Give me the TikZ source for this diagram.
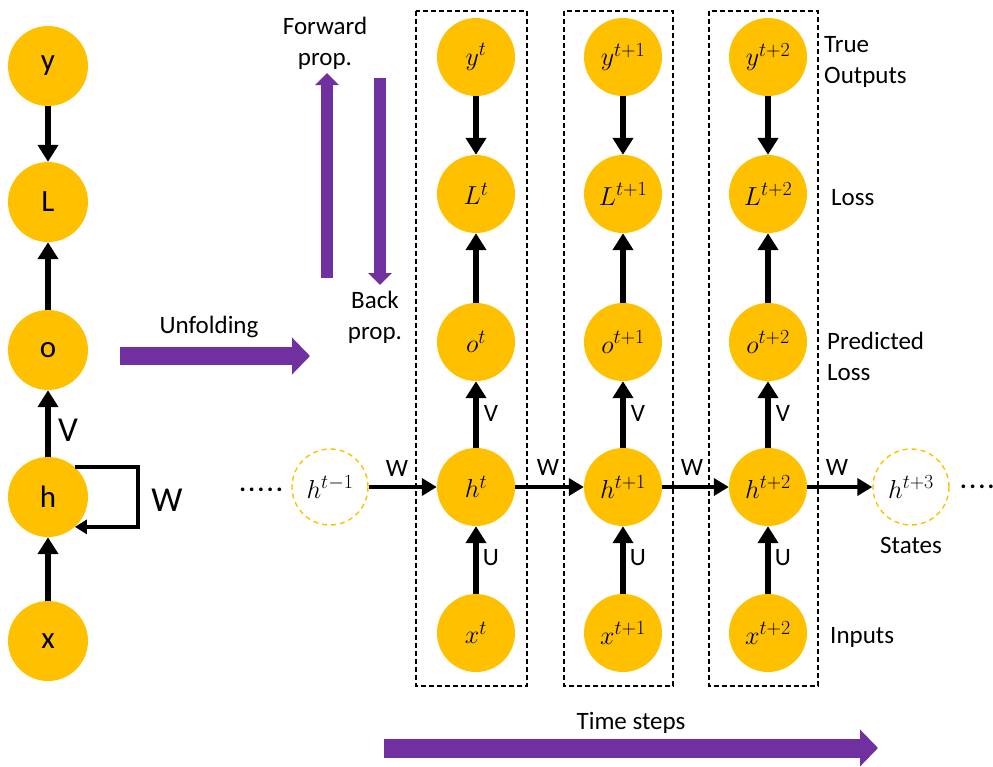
\documentclass[tikz,border=0pt]{standalone}
\usepackage{fix-cm}
\usepackage{fontspec}
\setmainfont{Carlito}
\usetikzlibrary{arrows.meta}
\DeclareMathSizes{26}{26}{20}{15}
\definecolor{rnnGold}{HTML}{FFC000}
\definecolor{rnnPurple}{HTML}{7030A0}
\begin{document}
\begin{tikzpicture}[x=1pt,y=-1pt,
  neuron/.style={circle,fill=rnnGold,minimum size=78pt,inner sep=0pt,font=\fontsize{26}{30}\selectfont},
  bigneuron/.style={neuron,minimum size=80pt,font=\fontsize{31}{36}\selectfont},
  ghost/.style={circle,draw=rnnGold,line width=1.4pt,dash pattern=on 5pt off 4pt,minimum size=76pt,inner sep=0pt,font=\fontsize{26}{30}\selectfont},
  varrow/.style={line width=6pt,-{Triangle[width=20pt,length=17pt]}},
  harrow/.style={line width=4.5pt,-{Triangle[width=17pt,length=15pt]}},
  looparrow/.style={line width=3.5pt,-{Triangle[width=14pt,length=12pt]}},
  flowarrow/.style={draw=rnnPurple,line cap=butt},
  dashbox/.style={draw,line width=1.2pt,dash pattern=on 5pt off 3pt},
  lbl/.style={font=\fontsize{25}{31}\selectfont,inner sep=0pt},
  biglbl/.style={font=\fontsize{35}{40}\selectfont,inner sep=0pt},
]
\useasboundingbox (0,0) rectangle (993,766);

% folded network
\node[bigneuron] (ly) at (48,66) {y};
\node[bigneuron] (lL) at (48,202) {L};
\node[bigneuron] (lo) at (48,350) {o};
\node[bigneuron] (lh) at (48,497) {h};
\node[bigneuron] (lx) at (48,641) {x};
\draw[varrow] (ly) -- (lL);
\draw[varrow] (lo) -- (lL);
\draw[varrow] (lh) -- (lo);
\draw[varrow] (lx) -- (lh);
\node[biglbl] at (68,430) {V};
\coordinate (loopc) at (138,497);
\draw[looparrow] (lh.48) -| (loopc) |- (lh.-48);
\node[biglbl] at (167,500) {W};

% unfolding arrow
\coordinate (uf0) at (120,356);
\coordinate (uf1) at (310,356);
\draw[flowarrow,line width=18pt,-{Triangle[width=36pt,length=18pt]}] (uf0) -- (uf1);
\node[lbl] at (209,327) {Unfolding};

% forward / backward propagation arrows
\coordinate (fp0) at (327,278);
\coordinate (fp1) at (327,73);
\coordinate (bp0) at (380,78);
\coordinate (bp1) at (380,285);
\draw[flowarrow,line width=12pt,-{Triangle[width=23pt,length=12pt]}] (fp0) -- (fp1);
\draw[flowarrow,line width=12pt,-{Triangle[width=23pt,length=12pt]}] (bp0) -- (bp1);
\node[lbl,align=center] at (325,43) {Forward\\prop.};
\node[lbl,align=center] at (375,317) {Back\\prop.};

% time-step frames
\draw[dashbox] (416,11) rectangle (527,686);
\draw[dashbox] (564,11) rectangle (673,686);
\draw[dashbox] (709,11) rectangle (818,686);

% unfolded network
\foreach \cx/\ex/\nm in {476/t/a,623/t+1/b,768/t+2/c}{
  \node[neuron] (y\nm) at (\cx,57) {$y^{\ex}$};
  \node[neuron] (L\nm) at (\cx,194) {$L^{\ex}$};
  \node[neuron] (o\nm) at (\cx,342) {$o^{\ex}$};
  \node[neuron] (h\nm) at (\cx,487) {$h^{\ex}$};
  \node[neuron] (x\nm) at (\cx,633) {$x^{\ex}$};
  \draw[varrow] (y\nm) -- (L\nm);
  \draw[varrow] (o\nm) -- (L\nm);
  \draw[varrow] (h\nm) -- (o\nm);
  \draw[varrow] (x\nm) -- (h\nm);
  \node[lbl] at (\cx+15,413) {V};
  \node[lbl] at (\cx+15,558) {U};
}

\node[ghost] (hprev) at (330,487) {$h^{t-1}$};
\node[ghost] (hnext) at (911,487) {$h^{t+3}$};
\draw[harrow] (hprev) -- (ha);
\draw[harrow] (ha) -- (hb);
\draw[harrow] (hb) -- (hc);
\draw[harrow] (hc) -- (hnext);
\node[lbl] at (397,468) {W};
\node[lbl] at (548,467) {W};
\node[lbl] at (692,467) {W};
\node[lbl] at (837,467) {W};
\node[lbl] at (261,490) {\textbf{.\kern2.5pt.\kern2.5pt.\kern2.5pt.\kern2.5pt.}};
\node[lbl,anchor=west] at (960,487) {\textbf{.\kern2.5pt.\kern2.5pt.\kern2.5pt.}};

% row labels
\node[lbl,align=left,anchor=west] at (824,62) {True\\Outputs};
\node[lbl,anchor=west] at (831,198) {Loss};
\node[lbl,align=left,anchor=west] at (827,356) {Predicted\\Loss};
\node[lbl] at (911,545) {States};
\node[lbl,anchor=west] at (830,637) {Inputs};

% time axis
\coordinate (ts0) at (384,748);
\coordinate (ts1) at (878,748);
\draw[flowarrow,line width=19pt,-{Triangle[width=36pt,length=18pt]}] (ts0) -- (ts1);
\node[lbl] at (631,723) {Time steps};
\end{tikzpicture}
\end{document}
